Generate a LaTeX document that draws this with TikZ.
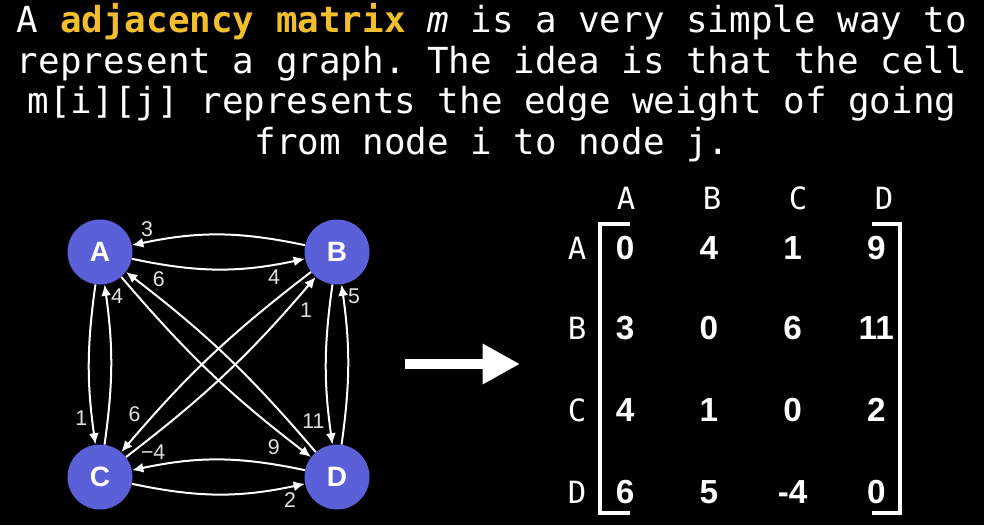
\documentclass[tikz,border=0pt]{standalone}
\usepackage{fontspec}
\setmainfont{Liberation Sans}
\setmonofont{DejaVu Sans Mono}
\usepackage{tikz}
\usepackage{xcolor}
\usetikzlibrary{arrows.meta, positioning}
\definecolor{nodeblue}{RGB}{91,95,216}
\definecolor{hilite}{RGB}{242,190,44}
\definecolor{wgray}{RGB}{225,225,225}
\tikzstyle{vert}=[circle, fill=nodeblue, minimum size=48.75pt, inner sep=0pt,
  text=white, font=\fontsize{21}{24}\selectfont\bfseries]
\tikzstyle{gedge}=[draw=white, line width=1.5pt, -{Latex[length=8.5pt,width=7.5pt]}]
\tikzstyle{wlab}=[font=\fontsize{16}{19}\selectfont, text=wgray, auto=right, inner sep=2pt]
\tikzstyle{titleline}=[anchor=base, inner sep=0pt, text=white,
  font=\ttfamily\fontsize{26.9}{31}\selectfont]
\tikzstyle{entry}=[text=white, font=\fontsize{25}{29}\selectfont\bfseries]
\tikzstyle{mlab}=[text=white, font=\ttfamily\fontsize{23}{27}\selectfont]
\tikzstyle{bracket}=[draw=white, line width=2.3pt]
\tikzstyle{bigarr}=[draw=white, line width=7.5pt, -{Triangle[length=28pt,width=28.5pt]}]

\begin{document}
\begin{tikzpicture}[x=0.75pt, y=-0.75pt]
  \fill[black] (0,0) rectangle (984,525);
  \useasboundingbox (0,0) rectangle (984,525);

  % text above
  \node[titleline] (t1) at (492,32) {A \textbf{\color{hilite}adjacency matrix} \textit{m} is a very simple way to};
  \node[titleline] (t2) at (492,73) {represent a graph. The idea is that the cell};
  \node[titleline] (t3) at (492,113) {m[i][j] represents the edge weight of going};
  \node[titleline] (t4) at (492,154) {from node i to node j.};

  % graph
  \node[vert] (A) at (100,252) {A};
  \node[vert] (B) at (337,252) {B};
  \node[vert] (C) at (100,477) {C};
  \node[vert] (D) at (337,477) {D};

  \draw[gedge] (B) to[bend right=12] node[wlab, pos=0.87] (wBA) {3} (A);
  \draw[gedge] (A) to[bend right=12] node[wlab, pos=0.78] (wAB) {4} (B);
  \draw[gedge] (A) to[bend right=8] node[wlab, pos=0.78] (wAC) {1} (C);
  \draw[gedge] (C) to[bend right=8] node[wlab, pos=0.87] (wCA) {4} (A);
  \draw[gedge] (B) to[bend right=8] node[wlab, pos=0.8] (wBD) {11} (D);
  \draw[gedge] (D) to[bend right=8] node[wlab, pos=0.87] (wDB) {5} (B);
  \draw[gedge] (D) to[bend right=12] node[wlab, pos=0.8] (wDC) {−4} (C);
  \draw[gedge] (C) to[bend right=12] node[wlab, pos=0.87] (wCD) {2} (D);
  \draw[gedge] (A) to[bend right=6] node[wlab, pos=0.88] (wAD) {9} (D);
  \draw[gedge] (D) to[bend right=6] node[wlab, pos=0.9] (wDA) {6} (A);
  \draw[gedge] (B) to[bend right=6] node[wlab, pos=0.88] (wBC) {6} (C);
  \draw[gedge] (C) to[bend right=6] node[wlab, pos=0.9] (wCB) {1} (B);

  % arrow to the matrix
  \coordinate (arrS) at (405,364);
  \coordinate (arrE) at (520,364);
  \draw[bigarr] (arrS) -- (arrE);

  % matrix
  \foreach \h [count=\c] in {A,B,C,D}
    \node[mlab] (col\h) at ({540+86*\c},198) {\h};
  \foreach \rn/\ry/\vals in {A/248/{0,4,1,9}, B/328/{3,0,6,11}, C/410/{4,1,0,2}, D/492/{6,5,-4,0}} {
    \node[mlab] (row\rn) at (577,\ry) {\rn};
    \foreach \v [count=\c] in \vals
      \node[entry] (m\rn\c) at ({541.5+83.7*\c},\ry) {\v};
  }
  \draw[bracket] (630,224) -- (600,224) -- (600,513) -- (630,513);
  \draw[bracket] (872,224) -- (900,224) -- (900,513) -- (872,513);
\end{tikzpicture}
\end{document}
